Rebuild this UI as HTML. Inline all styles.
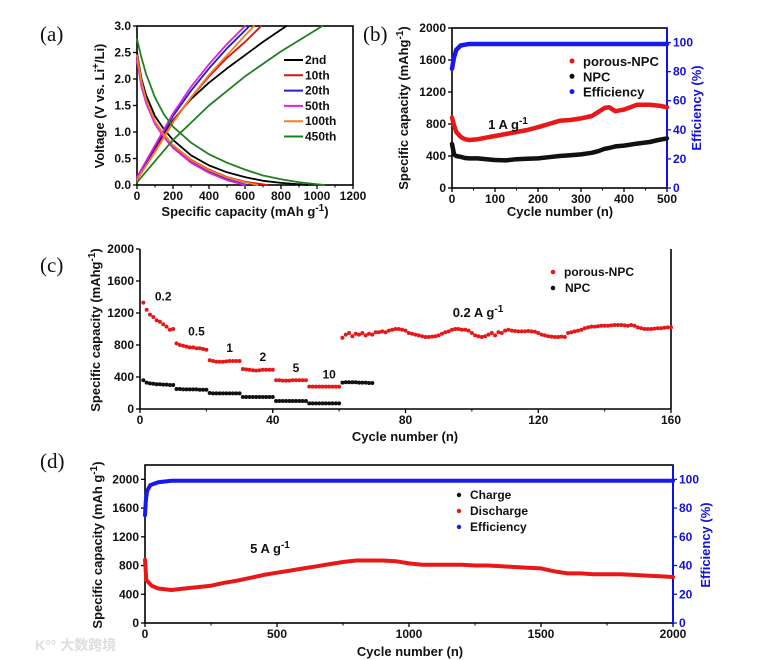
<!DOCTYPE html>
<html><head><meta charset="utf-8"><style>
html,body{margin:0;padding:0;background:#fff}
svg{display:block}
text{font-family:"Liberation Sans",sans-serif;font-weight:bold;font-size:12px;fill:#111}
.pl{font-family:"Liberation Serif",serif;font-weight:normal;font-size:21px}
.bl{fill:#1010e0}
.tt{font-size:13px}
</style></head><body>
<svg id="fig" width="780" height="660" viewBox="0 0 780 660" xmlns="http://www.w3.org/2000/svg">
<text class="pl" x="40" y="41">(a)</text>
<text class="pl" x="363" y="41">(b)</text>
<text class="pl" x="40" y="272">(c)</text>
<text class="pl" x="40" y="468">(d)</text>
<text x="35" y="650" style="font-size:14px;fill:#ddd;font-family:'Liberation Sans','Noto Sans CJK SC',sans-serif">K°° 大数跨境</text>
<g id="g"></g>
</svg>
<script>
// ---- Panel (a) data: [capacity, voltage] ----
const aNames=["2nd","10th","20th","50th","100th","450th"];
const aColors=["#000","#e01010","#2020d0","#e020e0","#f08020","#208020"];
const aDis=[
 [[0,2.5],[25,2.0],[50,1.7],[100,1.3],[150,1.05],[200,0.85],[300,0.56],[400,0.37],[500,0.24],[600,0.15],[700,0.08],[800,0.04],[950,0]],
 [[0,2.4],[25,1.9],[50,1.6],[100,1.2],[150,0.95],[200,0.75],[300,0.48],[400,0.29],[500,0.15],[600,0.06],[725,0]],
 [[0,2.4],[25,1.9],[50,1.6],[100,1.18],[150,0.92],[200,0.72],[300,0.44],[400,0.25],[500,0.11],[610,0]],
 [[0,2.35],[25,1.85],[50,1.55],[100,1.15],[150,0.9],[200,0.7],[300,0.42],[400,0.23],[500,0.09],[600,0]],
 [[0,2.45],[25,1.95],[50,1.62],[100,1.2],[150,0.95],[200,0.75],[300,0.47],[400,0.28],[500,0.14],[600,0.05],[670,0]],
 [[0,2.75],[25,2.4],[50,2.1],[100,1.65],[150,1.33],[200,1.1],[300,0.8],[400,0.58],[500,0.42],[600,0.29],[700,0.18],[800,0.11],[900,0.05],[1040,0]]
];
const aCha=[
 [[0,0.15],[100,0.7],[200,1.22],[300,1.62],[400,1.93],[500,2.2],[600,2.45],[700,2.7],[830,3.0]],
 [[0,0.1],[100,0.65],[200,1.2],[300,1.65],[400,2.05],[500,2.4],[600,2.7],[690,3.0]],
 [[0,0.12],[100,0.72],[200,1.3],[300,1.78],[400,2.2],[500,2.58],[625,3.0]],
 [[0,0.15],[100,0.75],[200,1.35],[300,1.85],[400,2.28],[500,2.66],[600,3.0]],
 [[0,0.1],[100,0.62],[200,1.18],[300,1.65],[400,2.08],[500,2.45],[600,2.82],[650,3.0]],
 [[0,0.05],[200,0.85],[400,1.5],[600,2.05],[800,2.52],[1030,3.0]]
];
// ---- Panel (b) data ----
const bCyc=[0,5,10,20,30,40,60,80,100,125,150,175,200,225,250,275,300,325,340,355,365,380,400,430,460,480,500];
const bPorous=[880,780,700,640,610,600,610,630,650,675,700,725,760,800,840,850,870,900,950,1000,1010,960,980,1040,1040,1030,1010];
const bNPC=[550,420,400,390,375,370,370,360,350,345,360,365,370,385,400,410,420,440,460,490,500,520,530,555,575,600,620];
const bEff=[82,90,95,98,98.5,99,99,99,99,99,99,99,99,99,99,99,99,99,99,99,99,99,99,99,99,99,99];
// ---- Panel (c) data ----
const cPorous=[1330,1240,1180,1150,1110,1090,1060,1030,990,1000,
 820,800,790,780,770,770,760,760,750,740,
 610,600,590,590,590,595,600,600,600,600,
 500,495,490,485,480,485,490,490,490,490,
 360,360,355,355,355,360,360,360,360,360,
 280,280,280,280,280,280,280,280,280,280,
 890,930,950,910,940,930,950,920,940,930,
 960,960,970,960,980,990,1000,1000,990,980,
 950,940,930,920,910,900,900,905,910,920,
 940,960,970,990,1000,1000,990,990,980,950,
 920,910,900,910,930,950,920,960,950,980,
 990,980,975,970,970,970,975,970,965,950,
 930,920,910,905,900,900,905,900,950,960,
 970,980,990,1010,1020,1030,1030,1035,1040,1040,
 1040,1045,1050,1050,1050,1045,1040,1050,1040,1020,
 1010,1000,1000,1000,1005,1010,1010,1015,1020,1020];
const cNPC=[360,330,320,315,310,310,305,305,300,300,
 250,250,245,245,245,245,245,240,240,240,
 200,195,195,195,195,195,195,195,195,195,
 150,150,150,150,150,150,150,150,150,150,
 100,100,100,100,100,100,100,100,100,100,
 70,70,70,70,70,70,70,70,70,70,
 330,335,335,335,335,330,330,330,325,325];
const cRates=["0.2","0.5","1","2","5","10"];
// ---- Panel (d) data ----
const dCyc=[0,5,25,50,100,150,200,250,300,350,400,450,500,550,600,650,700,750,800,850,900,950,1000,1050,1100,1150,1200,1250,1300,1350,1400,1450,1500,1550,1600,1650,1700,1750,1800,1850,1900,1950,2000];
const dDis=[880,600,520,480,460,480,500,520,560,590,630,670,700,730,760,790,820,850,870,870,870,860,830,810,810,810,810,800,800,790,780,770,760,720,690,690,680,680,680,670,660,650,640];
const dEffC=[0,3,8,20,50,100,2000];
const dEff=[75,85,92,96,98,99,99];

const NS="http://www.w3.org/2000/svg";
const G=document.getElementById('g');
function el(t,a,p){const e=document.createElementNS(NS,t);for(const k in a)e.setAttribute(k,a[k]);(p||G).appendChild(e);return e;}
function lin(d0,d1,r0,r1){return v=>r0+(v-d0)*(r1-r0)/(d1-d0);}
function txt(x,y,s,anchor,cls,extra){const t=el('text',{x:x,y:y,'text-anchor':anchor||'start'});if(cls)t.setAttribute('class',cls);if(extra)for(const k in extra)t.setAttribute(k,extra[k]);t.textContent=s;return t;}
function frame(x0,y0,x1,y1,name){const r=el('rect',{x:x0,y:y0,width:x1-x0,height:y1-y0,fill:'none',stroke:'#000','stroke-width':1.6});

}
function xTicks(sx,vals,y,minor){vals.forEach(v=>{el('line',{x1:sx(v),x2:sx(v),y1:y,y2:y+4,stroke:'#000','stroke-width':1.3});const t=txt(sx(v),y+15,String(v),'middle');

});
if(minor)minor.forEach(v=>el('line',{x1:sx(v),x2:sx(v),y1:y,y2:y+2.5,stroke:'#000','stroke-width':1}));}
function yTicks(sy,vals,x,fmt,col,right){vals.forEach(v=>{el('line',{x1:x,x2:right?x+4:x-4,y1:sy(v),y2:sy(v),stroke:col||'#000','stroke-width':1.3});const t=txt(right?x+6:x-6,sy(v)+4,fmt?fmt(v):String(v),right?'start':'end',col?'bl':null);

});}
function poly(pts,col,w,name,op){const p=el('polyline',{points:pts.map(q=>q[0].toFixed(1)+','+q[1].toFixed(1)).join(' '),fill:'none',stroke:col,'stroke-width':w,'stroke-linejoin':'round','stroke-linecap':'round'});if(op)p.setAttribute('opacity',op);

return p;}
function ytitle(x,y,parts,cls){const t=el('text',{x:0,y:0,'text-anchor':'middle',transform:`translate(${x},${y}) rotate(-90)`});t.setAttribute('class','tt'+(cls?' '+cls:''));
parts.forEach(p=>{const s=el('tspan',{},t);s.textContent=p[0];if(p[1]){s.setAttribute('baseline-shift','super');s.setAttribute('font-size','10px');}});return t;}
function xtitle(x,y,parts){const t=el('text',{x:x,y:y,'text-anchor':'middle'});t.setAttribute('class','tt');parts.forEach(p=>{const s=el('tspan',{},t);s.textContent=p[0];if(p[1]){s.setAttribute('baseline-shift','super');s.setAttribute('font-size','10px');}});return t;}

// ===== Panel (a) =====
(function(){
const sx=lin(0,1200,137,353), sy=lin(0,3,185,26);
frame(137,26,353,185,'plot-frame-a');
xTicks(sx,[0,200,400,600,800,1000,1200],185,[100,300,500,700,900,1100]);
yTicks(sy,[0,0.5,1,1.5,2,2.5,3],137,v=>v.toFixed(1));
for(let i=0;i<6;i++){
 poly(aDis[i].map(p=>[sx(p[0]),sy(p[1])]),aColors[i],1.8,'discharge-curve-'+aNames[i]);
 poly(aCha[i].map(p=>[sx(p[0]),sy(p[1])]),aColors[i],1.8,'charge-curve-'+aNames[i]);
 const y=60+15.3*i;
 const l=el('line',{x1:284,x2:303,y1:y,y2:y,stroke:aColors[i],'stroke-width':2});
 
 
 const t=txt(305,y+4,aNames[i]);
 
 
}
const yt=ytitle(104,106,[["Voltage (V vs. Li"],["+",1],["/Li)"]]);


const xt=xtitle(245,216,[["Specific capacity (mAh g"],["-1",1],[")"]]);


})();

// ===== Panel (b) =====
(function(){
const sx=lin(0,500,452,667), sy=lin(0,2000,188,28), se=lin(0,110,188,28);
frame(452,28,667,188,'plot-frame-b');
el('line',{x1:667,x2:667,y1:28,y2:188,stroke:'#1010e0','stroke-width':2});
xTicks(sx,[0,100,200,300,400,500],188,[50,150,250,350,450]);
yTicks(sy,[0,400,800,1200,1600,2000],452);
yTicks(se,[0,20,40,60,80,100],667,null,'#1010e0',true);
poly(bCyc.map((c,i)=>[sx(c),sy(bPorous[i])]),'#e81818',4.5,'series-porous-npc');
poly(bCyc.map((c,i)=>[sx(c),sy(bNPC[i])]),'#111',4.5,'series-npc');
poly(bCyc.map((c,i)=>[sx(c),se(bEff[i])]),'#1818f0',4.5,'series-efficiency');
[["porous-NPC","#e81818"],["NPC","#111"],["Efficiency","#1818f0"]].forEach((e,i)=>{
 const y=61+15.3*i;
 const c=el('circle',{cx:572,cy:y,r:2.5,fill:e[1]});
 
 
 const t=txt(583,y+5,e[0],'start',null,{style:'font-size:13px'});
 
 });
const an=xtitle(508,129,[["1 A g"],["-1",1]]);


const yt=ytitle(408,108,[["Specific capacity (mAhg"],["-1",1],[")"]]);


const y2=ytitle(701,108,[["Efficiency (%)"]],'bl');


const xt=xtitle(560,216,[["Cycle number (n)"]]);


})();

// ===== Panel (c) =====
(function(){
const sx=lin(0,160,140,671), sy=lin(0,2000,409,249);
el('line',{x1:140,x2:140,y1:249,y2:409,stroke:'#000','stroke-width':1.6});
el('line',{x1:140,x2:671,y1:409,y2:409,stroke:'#000','stroke-width':1.6});
el('line',{x1:671,x2:671,y1:249,y2:409,stroke:'#000','stroke-width':1.6});
xTicks(sx,[0,40,80,120,160],409,[20,60,100,140]);
yTicks(sy,[0,400,800,1200,1600,2000],140);
cPorous.forEach((v,i)=>{const c=el('circle',{cx:sx(i+1),cy:sy(v),r:2,fill:'#e81818'});

});
cNPC.forEach((v,i)=>{const c=el('circle',{cx:sx(i+1),cy:sy(v),r:2,fill:'#111'});

});
cRates.forEach((r,k)=>{const first=cPorous[k*10];const t=txt(sx(k*10+7),sy(first)-(k==0?2:8),r,'middle',null,{style:'font-size:12px'});

});
[["porous-NPC","#e81818"],["NPC","#111"]].forEach((e,i)=>{const y=272+16*i;
 const c=el('circle',{cx:553,cy:y,r:2.3,fill:e[1]});
 
 
 const t=txt(564+(i?1:0),y+4,e[0]);
 
 });
const an=xtitle(478,317,[["0.2 A g"],["-1",1]]);


const yt=ytitle(100,330,[["Specific capacity (mAhg"],["-1",1],[")"]]);


const xt=xtitle(405,441,[["Cycle number (n)"]]);


})();

// ===== Panel (d) =====
(function(){
const sx=lin(0,2000,145,673), sy=lin(0,2200,623,465), se=lin(0,110,623,465);
frame(145,465,673,623,'plot-frame-d');
el('line',{x1:673,x2:673,y1:465,y2:623,stroke:'#1010e0','stroke-width':2});
xTicks(sx,[0,500,1000,1500,2000],623,[250,750,1250,1750]);
yTicks(sy,[0,400,800,1200,1600,2000],145);
yTicks(se,[0,20,40,60,80,100],673,null,'#1010e0',true);
poly(dCyc.map((c,i)=>[sx(c),sy(dDis[i])]),'#e81818',4,'series-discharge');
poly(dEffC.map((c,i)=>[sx(c),se(dEff[i])]),'#1818f0',4,'series-efficiency-d');
[["Charge","#111"],["Discharge","#e81818"],["Efficiency","#1818f0"]].forEach((e,i)=>{const y=495+16*i;
 const c=el('circle',{cx:459,cy:y,r:2.2,fill:e[1]});
 
 
 const t=txt(470,y+4,e[0],'start',null,{style:'font-size:12px'});
 
 });
const an=xtitle(270,553,[["5 A g"],["-1",1]]);


const yt=ytitle(102,545,[["Specific capacity (mAh g"],["-1",1],[")"]]);


const y2=ytitle(710,545,[["Efficiency (%)"]],'bl');


const xt=xtitle(410,656,[["Cycle number (n)"]]);


})();
</script>
</body></html>
